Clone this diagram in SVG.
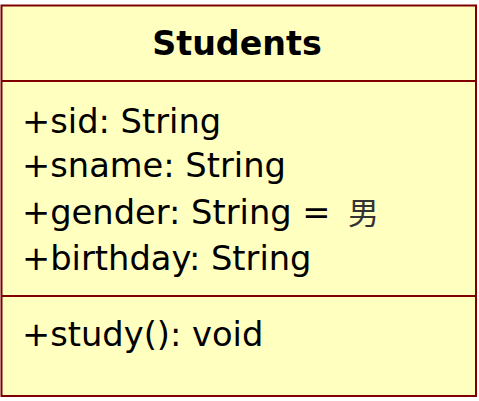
<svg xmlns="http://www.w3.org/2000/svg" width="479" height="401" viewBox="0 0 479 401">
  <style>
    .box { fill: #FFFFC0; stroke: #800000; stroke-width: 2; }
    .div { stroke: #800000; stroke-width: 2; }
    .title { font-family: "DejaVu Sans", Verdana, sans-serif; font-weight: bold; font-size: 33.3px; fill: #000; }
    .member { font-family: "DejaVu Sans", "Noto Sans CJK SC", sans-serif; font-size: 33.7px; fill: #000; }
  </style>
  <rect width="479" height="401" fill="#FFFFFF"/>
  <g id="Students">
    <rect class="box" x="1.5" y="5.5" width="474.5" height="390.5"/>
    <line class="div" x1="1.5" y1="81" x2="476" y2="81"/>
    <line class="div" x1="1.5" y1="296" x2="476" y2="296"/>
    <text class="title" x="237" y="55" text-anchor="middle">Students</text>
    <text class="member" x="22" y="133">+sid: String</text>
    <text class="member" x="22" y="177">+sname: String</text>
    <text class="member" x="22" y="224">+gender: String = <tspan x="348" font-family="Noto Sans CJK SC, sans-serif" font-size="31px" fill="#333">男</tspan></text>
    <text class="member" x="22" y="270">+birthday: String</text>
    <text class="member" x="22" y="346">+study(): void</text>
  </g>
</svg>
